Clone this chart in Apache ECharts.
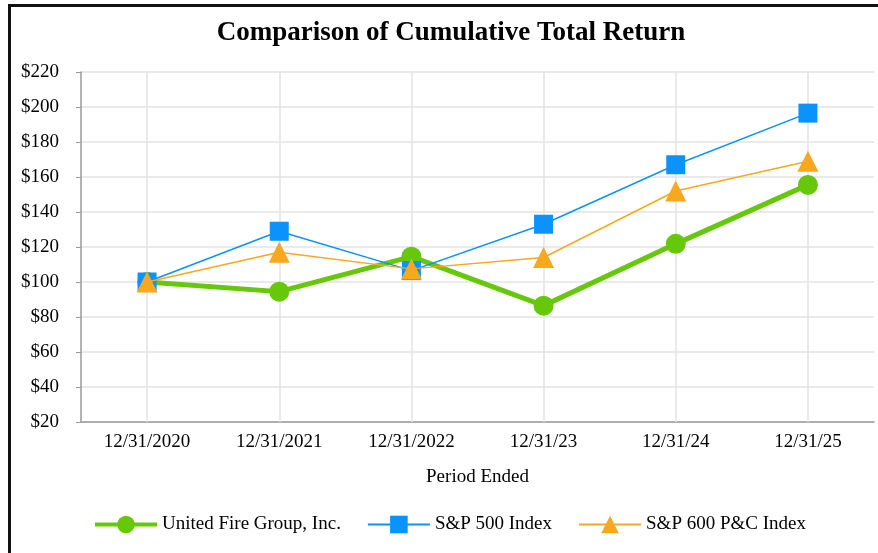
<!DOCTYPE html>
<html>
<head>
<meta charset="utf-8">
<script src="https://cdn.jsdelivr.net/npm/echarts@6/dist/echarts.min.js"></script>
<style>
  html, body { margin: 0; padding: 0; background: #fff; }
  #chart { width: 878px; height: 553px; position: relative; }
  .frame { position: absolute; left: 8px; top: 4px; right: -10px; bottom: -10px; border: 3px solid #111; pointer-events: none; z-index: 5; }
</style>
</head>
<body>
<div id="chart"></div>
<div class="frame"></div>
<script>
// period labels
const periods = ['12/31/2020', '12/31/2021', '12/31/2022', '12/31/23', '12/31/24', '12/31/25']
// cumulative total return, $100 invested
const unitedFire = [100, 94.5, 114.5, 86.5, 121.8, 155.5]
const sp500 = [100, 129, 106.5, 133, 167, 196.5]
const sp600pc = [100, 117, 107.5, 114, 152, 169]

const serif = '"Liberation Serif", "Times New Roman", serif'

let myChart = echarts.init(document.getElementById('chart'))
myChart.setOption({
  animation: false,
  title: {
    text: 'Comparison of Cumulative Total Return',
    left: 446,
    top: 15,
    textAlign: 'center',
    textStyle: { fontFamily: serif, fontWeight: 'bold', fontSize: 27, color: '#000' }
  },
  grid: { left: 81, right: 4, top: 72, bottom: 131 },
  legend: {
    left: 88,
    top: 510,
    itemWidth: 62,
    itemHeight: 22,
    itemGap: 26,
    textStyle: { fontFamily: serif, fontSize: 19, color: '#000' },
    data: [
      { name: 'United Fire Group, Inc.', lineStyle: { width: 4 } },
      { name: 'S&P 500 Index' },
      { name: 'S&P 600 P&C Index' }
    ]
  },
  xAxis: {
    type: 'category',
    data: periods,
    boundaryGap: true,
    name: 'Period Ended',
    nameLocation: 'middle',
    nameGap: 46,
    nameTextStyle: { fontFamily: serif, fontSize: 19, color: '#000' },
    axisLine: { lineStyle: { color: '#9a9a9a', width: 1.5 } },
    axisTick: { alignWithLabel: true, length: 6, lineStyle: { color: '#9a9a9a' } },
    axisLabel: { fontFamily: serif, fontSize: 19, color: '#000', margin: 11 },
    splitLine: { show: false }
  },
  yAxis: {
    type: 'value',
    min: 20,
    max: 220,
    interval: 20,
    axisLine: { show: true, lineStyle: { color: '#9a9a9a', width: 1.5 } },
    axisTick: { show: true, length: 5, lineStyle: { color: '#9a9a9a' } },
    axisLabel: { fontFamily: serif, fontSize: 19, color: '#000', margin: 22, formatter: '${value}' },
    splitLine: { lineStyle: { color: '#e3e3e3', width: 1.5 } }
  },
  series: [
    {
      // vertical grid lines through each period
      name: 'grid',
      type: 'line',
      data: [],
      z: 0,
      silent: true,
      markLine: {
        silent: true,
        symbol: 'none',
        label: { show: false },
        lineStyle: { color: '#e3e3e3', width: 1.5, type: 'solid' },
        data: periods.map(p => ({ xAxis: p }))
      }
    },
    {
      name: 'S&P 500 Index',
      type: 'line',
      data: sp500,
      symbol: 'rect',
      symbolSize: 19,
      color: '#0a93fb',
      lineStyle: { width: 1.5 },
      zlevel: 1,
      z: 2
    },
    {
      name: 'S&P 600 P&C Index',
      type: 'line',
      data: sp600pc,
      symbol: 'triangle',
      symbolSize: 21,
      color: '#f7a81e',
      lineStyle: { width: 1.5 },
      zlevel: 1,
      z: 3
    },
    {
      name: 'United Fire Group, Inc.',
      type: 'line',
      data: unitedFire,
      symbol: 'circle',
      symbolSize: 20,
      color: '#66c80a',
      lineStyle: { width: 5 },
      zlevel: 1,
      z: 1
    }
  ]
})
</script>
</body>
</html>
